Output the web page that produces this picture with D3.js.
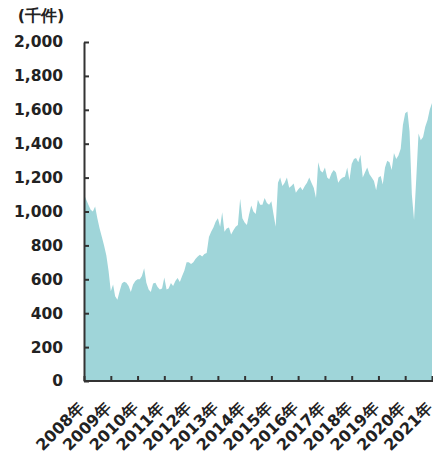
<!DOCTYPE html>
<html lang="ja">
<head>
  <meta charset="UTF-8">
  <title>Chart</title>
  <style>
    body { margin: 0; background: #ffffff; }
    svg { display: block; }
    text { font-family: "DejaVu Sans", Verdana, sans-serif; font-weight: bold; fill: #222222; }
    .domain { stroke: #333333; stroke-width: 2; }
    .tick line { stroke: #333333; stroke-width: 2; }
  </style>
  <script type="text/javascript" src="https://cdn.jsdelivr.net/npm/d3@7"></script>
</head>
<body>
<script type="text/javascript">

  // monthly values, Jan 2008 .. Jan 2021 (thousand cases)
  var v2008 = [1100, 1070, 1040, 1010, 1000, 1030, 960, 900, 850, 800, 740, 650];
  var v2009 = [530, 570, 500, 480, 530, 575, 585, 580, 560, 525, 570, 590];
  var v2010 = [600, 600, 620, 665, 580, 540, 525, 575, 580, 555, 540, 545];
  var v2011 = [610, 540, 545, 578, 560, 590, 607, 584, 620, 650, 700, 700];
  var v2012 = [690, 700, 720, 735, 745, 735, 750, 755, 850, 880, 905, 940];
  var v2013 = [960, 910, 995, 880, 900, 905, 865, 890, 910, 920, 1075, 960];
  var v2014 = [935, 920, 980, 1035, 1000, 985, 1070, 1040, 1040, 1080, 1050, 1040];
  var v2015 = [1060, 980, 910, 1170, 1200, 1150, 1170, 1200, 1140, 1150, 1165, 1110];
  var v2016 = [1130, 1145, 1125, 1150, 1170, 1200, 1170, 1140, 1080, 1290, 1240, 1230];
  var v2017 = [1260, 1200, 1190, 1225, 1245, 1230, 1170, 1190, 1200, 1205, 1260, 1185];
  var v2018 = [1280, 1310, 1315, 1290, 1335, 1200, 1230, 1260, 1220, 1200, 1180, 1125];
  var v2019 = [1200, 1210, 1160, 1260, 1300, 1290, 1245, 1345, 1310, 1330, 1370, 1510];
  var v2020 = [1580, 1590, 1470, 1100, 950, 1200, 1460, 1420, 1440, 1500, 1540, 1600];
  var v2021 = [1640];

  var yearLabels = ["2008年", "2009年", "2010年", "2011年", "2012年", "2013年", "2014年",
                    "2015年", "2016年", "2017年", "2018年", "2019年", "2020年", "2021年"];
  var yTicks = [0, 200, 400, 600, 800, 1000, 1200, 1400, 1600, 1800, 2000];
  var unitLabel = "(千件)";

  var values = [].concat(v2008, v2009, v2010, v2011, v2012, v2013, v2014,
                         v2015, v2016, v2017, v2018, v2019, v2020, v2021);
  var data = values.map(function(v, i) {
    return { date: new Date(2008, i, 1), value: v };
  });

  var width = 433, height = 464;
  var plotLeft = 84, plotRight = 432, plotTop = 42, plotBottom = 381;

  var svg = d3.select("body")
    .append("svg")
    .attr("width", width)
    .attr("height", height);

  var x = d3.scaleTime()
    .domain([new Date(2008, 0, 1), new Date(2021, 0, 1)])
    .range([plotLeft, plotRight]);

  var y = d3.scaleLinear()
    .domain([0, 2000])
    .range([plotBottom, plotTop]);

  var area = d3.area()
    .x(function(d) { return x(d.date); })
    .y0(y(0))
    .y1(function(d) { return y(d.value); });

  svg.append("path")
    .datum(data)
    .attr("fill", "#9fd5d9")
    .attr("d", area);

  // y axis
  var yAxis = svg.append("g")
    .attr("transform", "translate(" + plotLeft + ",0)")
    .call(d3.axisLeft(y)
      .tickValues(yTicks)
      .tickSize(-5)
      .tickSizeOuter(0)
      .tickPadding(21)
      .tickFormat(d3.format(",")));
  yAxis.selectAll("text")
    .style("font-size", "15.5px");

  // x axis
  var yearDates = yearLabels.map(function(d, i) { return new Date(2008 + i, 0, 1); });
  var xAxis = svg.append("g")
    .attr("transform", "translate(0," + plotBottom + ")")
    .call(d3.axisBottom(x)
      .tickValues(yearDates)
      .tickSize(-5)
      .tickSizeOuter(0)
      .tickFormat(function(d, i) { return yearLabels[i]; }));
  xAxis.selectAll("text")
    .style("font-size", "16px")
    .attr("text-anchor", "end")
    .attr("x", 0)
    .attr("y", 0)
    .attr("dy", "0.35em")
    .attr("transform", "translate(-3,24) rotate(-45)");
  xAxis.select(".domain").attr("d", "M" + plotLeft + ",0H" + width);

  svg.append("text")
    .attr("x", 41)
    .attr("y", 21)
    .attr("text-anchor", "middle")
    .style("font-size", "16px")
    .text(unitLabel);

</script>
</body>
</html>
